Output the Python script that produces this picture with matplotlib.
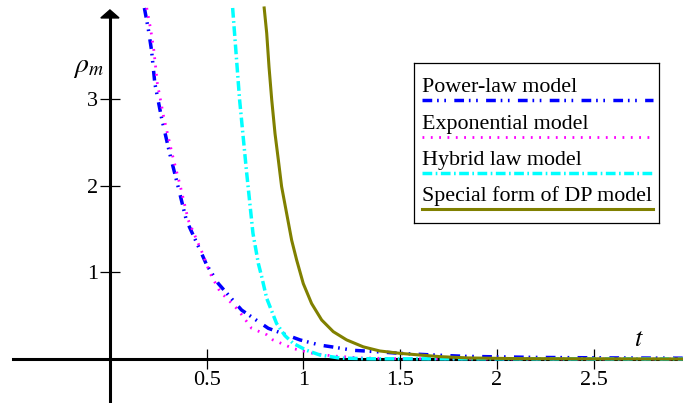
import matplotlib
matplotlib.use("Agg")
import matplotlib.pyplot as plt
from matplotlib.patches import Polygon

plt.rcParams["font.family"] = ["Liberation Serif", "DejaVu Serif"]
plt.rcParams["mathtext.fontset"] = "stix"
plt.rcParams["lines.scale_dashes"] = False

# density curves rho_m(t) for the four models
t_power = [0.178, 0.198, 0.215, 0.232, 0.266, 0.309, 0.352, 0.395, 0.473, 0.50,
           0.56, 0.68, 0.818, 0.982, 1.085, 1.146, 1.257, 1.378, 1.50, 1.67,
           1.84, 2.2, 2.6, 2.96]
rho_power = [4.05, 3.81, 3.56, 3.18, 2.79, 2.37, 1.99, 1.60, 1.22, 1.085,
             0.87, 0.565, 0.354, 0.22, 0.16, 0.14, 0.10, 0.084, 0.065, 0.046,
             0.03, 0.018, 0.012, 0.009]

t_exp = [0.19, 0.21, 0.227, 0.245, 0.278, 0.321, 0.364, 0.405, 0.478, 0.517,
         0.568, 0.663, 0.732, 0.81, 0.842, 0.896, 0.947, 1.048, 1.15, 1.30,
         1.5, 2.0, 2.96]
rho_exp = [4.05, 3.81, 3.56, 3.18, 2.79, 2.37, 1.99, 1.60, 1.22, 0.99,
           0.78, 0.565, 0.354, 0.28, 0.22, 0.17, 0.12, 0.065, 0.035, 0.012,
           0.003, 0.0, 0.0]

t_hybrid = [0.634, 0.67, 0.705, 0.739, 0.767, 0.784, 0.81, 0.861, 0.879, 0.904,
            0.947, 1.016, 1.085, 1.19, 1.35, 2.96]
rho_hybrid = [4.05, 2.99, 2.18, 1.45, 1.10, 0.95, 0.70, 0.41, 0.35, 0.27,
              0.18, 0.10, 0.046, 0.01, 0.002, 0.0]

t_dp = [0.797, 0.810, 0.822, 0.836, 0.853, 0.870, 0.887, 0.913, 0.939, 0.965,
        0.999, 1.042, 1.094, 1.154, 1.223, 1.309, 1.395, 1.499, 1.60, 1.705,
        1.85, 2.1, 2.96]
rho_dp = [4.05, 3.76, 3.37, 2.99, 2.60, 2.30, 1.99, 1.68, 1.37, 1.14,
          0.87, 0.64, 0.45, 0.315, 0.22, 0.14, 0.092, 0.065, 0.046, 0.027,
          0.012, 0.004, 0.0]

labels = ["Power-law model", "Exponential model", "Hybrid law model",
          "Special form of DP model"]
x_ticks = [0.5, 1, 1.5, 2, 2.5]
x_ticklabels = ["0.5", "1", "1.5", "2", "2.5"]
y_ticks = [1, 2, 3]

styles = [
    dict(color="#0000ff", lw=2.5, dashes=(7, 3.5, 1.2, 4, 1.2, 6)),
    dict(color="#ff00ff", lw=2.0, dashes=(1.3, 4.7)),
    dict(color="#00ffff", lw=2.5, dashes=(7, 2.5, 1.2, 2.5)),
    dict(color="#808000", lw=2.2),
]
series = [(t_power, rho_power), (t_exp, rho_exp), (t_hybrid, rho_hybrid), (t_dp, rho_dp)]

fig = plt.figure(figsize=(6.83, 4.03), dpi=100)
ax = fig.add_axes([0, 0, 1, 1])
ax.set_xlim(-0.568, 2.961)
ax.set_ylim(-0.508, 4.142)

for (t, rho), st in zip(series, styles):
    ax.plot(t, rho, zorder=3, **st)

# axes crossing at the origin
for side in ["top", "right"]:
    ax.spines[side].set_visible(False)
ax.spines["left"].set_position(("data", 0))
ax.spines["bottom"].set_position(("data", 0))
ax.spines["left"].set_bounds(-0.508, 3.95)
ax.spines["bottom"].set_bounds(-0.5, 2.961)
for side in ["left", "bottom"]:
    ax.spines[side].set_linewidth(2.2)
    ax.spines[side].set_zorder(2)

ax.add_patch(Polygon([[0, 4.027], [-0.047, 3.935], [0.047, 3.935]],
                     closed=True, color="black", clip_on=False, zorder=2))

ax.set_xticks(x_ticks)
ax.set_xticklabels(x_ticklabels)
ax.set_yticks(y_ticks)
ax.tick_params(direction="inout", length=14, width=0.9, labelsize=16)
ax.tick_params(axis="x", pad=1.5)
ax.tick_params(axis="y", pad=1.5)

ax.text(-0.112, 3.36, r"$\rho_m$", fontsize=20, ha="center", va="center")
ax.text(2.734, 0.22, r"$t$", fontsize=19, ha="center", va="center")

# legend box: label text above a sample of each line
leg = fig.add_axes([0.606, 0.447, 0.359, 0.397])
leg.set_xlim(0, 1)
leg.set_ylim(0, 1)
leg.set_xticks([])
leg.set_yticks([])
for sp in leg.spines.values():
    sp.set_linewidth(0.9)
line_y = [0.769, 0.5375, 0.3125, 0.0875]
for y, lab, st in zip(line_y, labels, styles):
    leg.plot([0.033, 0.976], [y, y], **st)
    leg.text(0.033, y + 0.05, lab, fontsize=15.8, va="baseline", ha="left")

fig.savefig("out.png", dpi=100)
